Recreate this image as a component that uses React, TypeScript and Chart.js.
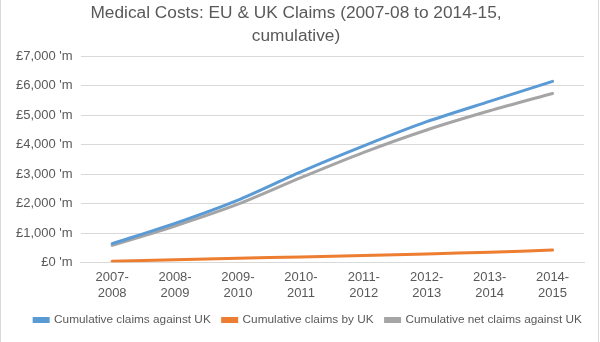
import React, { useEffect, useRef } from "react";
import { Chart, registerables } from "chart.js";

Chart.register(...registerables);

const categories: string[][] = [
  ["2007-", "2008"],
  ["2008-", "2009"],
  ["2009-", "2010"],
  ["2010-", "2011"],
  ["2011-", "2012"],
  ["2012-", "2013"],
  ["2013-", "2014"],
  ["2014-", "2015"],
];
const claimsAgainstUK = [640, 1330, 2120, 3080, 3960, 4780, 5470, 6150];
const claimsByUK = [40, 90, 140, 190, 240, 290, 350, 420];
const netClaimsAgainstUK = [580, 1240, 1980, 2880, 3740, 4500, 5150, 5740];
const titleLines = ["Medical Costs: EU & UK Claims (2007-08 to 2014-15,", "cumulative)"];

const FONT = "'Liberation Sans', Arial, sans-serif";
const TEXT = "#595959";

const shiftLegend = {
  id: "shiftLegend",
  afterLayout(chart: any) {
    const l = chart.legend;
    if (l) {
      l.left += 12;
      l.right += 12;
    }
  },
};

export default function App() {
  const ref = useRef<HTMLCanvasElement>(null);
  useEffect(() => {
    document.body.style.margin = "0";
    const chart = new Chart(ref.current!, {
      type: "line",
      data: {
        labels: categories,
        datasets: [
          { label: "Cumulative claims against UK", data: claimsAgainstUK, borderColor: "#5B9BD5", backgroundColor: "#5B9BD5" },
          { label: "Cumulative claims by UK", data: claimsByUK, borderColor: "#ED7D31", backgroundColor: "#ED7D31" },
          { label: "Cumulative net claims against UK", data: netClaimsAgainstUK, borderColor: "#A5A5A5", backgroundColor: "#A5A5A5" },
        ],
      },
      plugins: [shiftLegend],
      options: {
        animation: false,
        responsive: false,
        devicePixelRatio: 1,
        elements: {
          line: { borderWidth: 3, tension: 0.25, borderCapStyle: "round" },
          point: { radius: 0, hoverRadius: 0 },
        },
        layout: { padding: { left: 8, right: 16, top: 2, bottom: 6 } },
        plugins: {
          title: {
            display: true,
            text: titleLines,
            color: TEXT,
            font: { family: FONT, size: 17.3, weight: "normal", lineHeight: 1.31 },
            padding: { top: 0, bottom: 9 },
          },
          legend: {
            position: "bottom",
            labels: {
              boxWidth: 14,
              boxHeight: 3,
              color: TEXT,
              font: { family: FONT, size: 11.8, lineHeight: 1 },
              padding: 6,
              generateLabels: (chart: any) => {
                const items = Chart.defaults.plugins.legend.labels.generateLabels(chart);
                return items.map((it: any, i: number) => (i < items.length - 1 ? { ...it, text: it.text + "\u2002" } : it));
              },
            },
          },
          tooltip: { enabled: false },
        },
        scales: {
          x: {
            offset: true,
            grid: { display: false, drawTicks: false },
            border: { display: true, color: "#d9d9d9" },
            ticks: { color: TEXT, font: { family: FONT, size: 13, lineHeight: 1.22 }, maxRotation: 0, padding: 7 },
          },
          y: {
            min: 0,
            max: 7000,
            grid: { color: "#d9d9d9", drawTicks: false },
            border: { display: false },
            ticks: {
              stepSize: 1000,
              color: TEXT,
              padding: 8,
              font: { family: FONT, size: 13 },
              callback: (v: any) => "£" + Number(v).toLocaleString("en-GB") + " 'm",
            },
          },
        },
      },
    });
    return () => chart.destroy();
  }, []);
  return (
    <div style={{ position: "relative", width: 599, height: 342, borderLeft: "1px solid #d9d9d9", borderRight: "1px solid #d9d9d9", boxSizing: "border-box" }}>
      <canvas ref={ref} width={600} height={342} style={{ position: "absolute", left: -1, top: 0 }} />
    </div>
  );
}
